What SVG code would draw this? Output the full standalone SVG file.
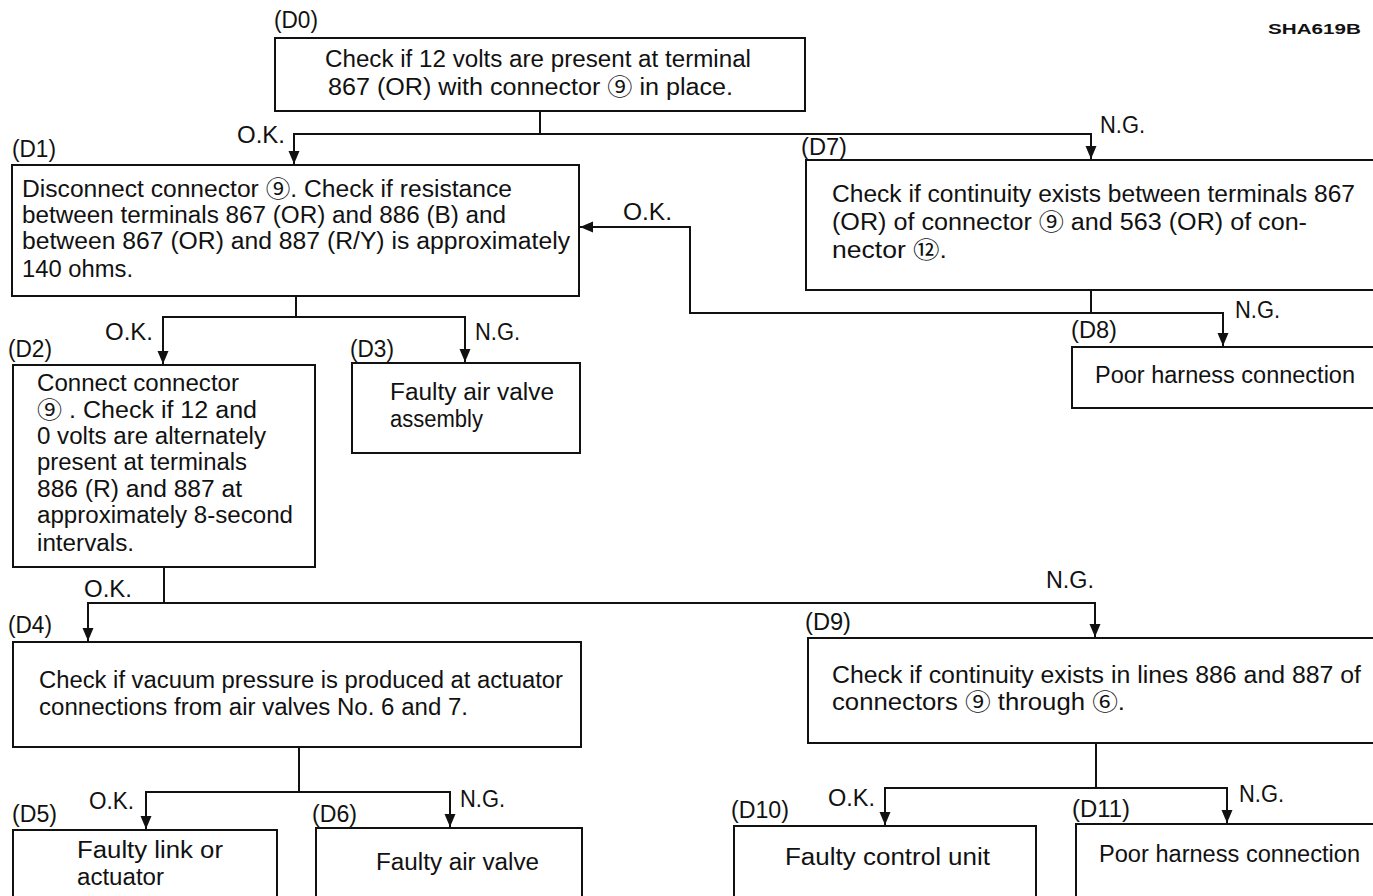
<svg xmlns="http://www.w3.org/2000/svg" width="1373" height="896" viewBox="0 0 1373 896">
<defs>
<style>
text{font-family:"Liberation Sans","Noto Sans CJK JP",sans-serif;font-size:23px;fill:#111;}
.box{fill:#fff;stroke:#111;stroke-width:2;}
.ln{fill:none;stroke:#111;stroke-width:2;}
.code{font-size:14px;font-weight:bold;}
</style>
<marker id="ah" markerUnits="userSpaceOnUse" markerWidth="14" markerHeight="14" viewBox="0 0 14 14" refX="13" refY="7" orient="auto">
<path d="M0 1.5 L13 7 L0 12.5 Z" fill="#111"/>
</marker>
</defs>
<rect width="1373" height="896" fill="#fff"/>
<text class="code" x="1268" y="34" textLength="93" lengthAdjust="spacingAndGlyphs">SHA619B</text>

<g id="connectors">
<path class="ln" d="M540 111 V134"/>
<path class="ln" d="M540 134 H294 V164" marker-end="url(#ah)"/>
<path class="ln" d="M540 134 H1091 V159" marker-end="url(#ah)"/>
<path class="ln" d="M1091 290 V313"/>
<path class="ln" d="M1091 313 H690 V227 H580" marker-end="url(#ah)"/>
<path class="ln" d="M1091 313 H1223 V346" marker-end="url(#ah)"/>
<path class="ln" d="M296 296 V317"/>
<path class="ln" d="M296 317 H163 V364" marker-end="url(#ah)"/>
<path class="ln" d="M296 317 H465 V362" marker-end="url(#ah)"/>
<path class="ln" d="M164 567 V603"/>
<path class="ln" d="M164 603 H88 V641" marker-end="url(#ah)"/>
<path class="ln" d="M164 603 H1095 V637" marker-end="url(#ah)"/>
<path class="ln" d="M299 747 V792"/>
<path class="ln" d="M299 792 H146 V829" marker-end="url(#ah)"/>
<path class="ln" d="M299 792 H450 V827" marker-end="url(#ah)"/>
<path class="ln" d="M1096 743 V788"/>
<path class="ln" d="M1096 788 H885 V825" marker-end="url(#ah)"/>
<path class="ln" d="M1096 788 H1227 V823" marker-end="url(#ah)"/>
<text x="237" y="143" textLength="48" lengthAdjust="spacingAndGlyphs">O.K.</text>
<text x="1100" y="133" textLength="45" lengthAdjust="spacingAndGlyphs">N.G.</text>
<text x="623" y="220" textLength="49" lengthAdjust="spacingAndGlyphs">O.K.</text>
<text x="1235" y="318" textLength="45" lengthAdjust="spacingAndGlyphs">N.G.</text>
<text x="105" y="340" textLength="48" lengthAdjust="spacingAndGlyphs">O.K.</text>
<text x="475" y="340" textLength="45" lengthAdjust="spacingAndGlyphs">N.G.</text>
<text x="84" y="597" textLength="48" lengthAdjust="spacingAndGlyphs">O.K.</text>
<text x="1046" y="588" textLength="48" lengthAdjust="spacingAndGlyphs">N.G.</text>
<text x="89" y="809" textLength="45" lengthAdjust="spacingAndGlyphs">O.K.</text>
<text x="460" y="807" textLength="45" lengthAdjust="spacingAndGlyphs">N.G.</text>
<text x="828" y="806" textLength="47" lengthAdjust="spacingAndGlyphs">O.K.</text>
<text x="1239" y="802" textLength="45" lengthAdjust="spacingAndGlyphs">N.G.</text>
</g>

<g id="D0">
<text x="274" y="28" textLength="44" lengthAdjust="spacingAndGlyphs">(D0)</text>
<rect class="box" x="275" y="38" width="530" height="73"/>
<text x="325" y="67" textLength="426" lengthAdjust="spacingAndGlyphs">Check if 12 volts are present at terminal</text>
<text x="328" y="95" textLength="405" lengthAdjust="spacingAndGlyphs">867 (OR) with connector ⑨ in place.</text>
</g>

<g id="D1">
<text x="12" y="157" textLength="44" lengthAdjust="spacingAndGlyphs">(D1)</text>
<rect class="box" x="12" y="165" width="567" height="131"/>
<text x="22" y="197" textLength="490" lengthAdjust="spacingAndGlyphs">Disconnect connector ⑨.  Check if resistance</text>
<text x="22" y="223" textLength="484" lengthAdjust="spacingAndGlyphs">between terminals 867 (OR) and 886 (B) and</text>
<text x="22" y="249" textLength="548" lengthAdjust="spacingAndGlyphs">between 867 (OR) and 887 (R/Y) is approximately</text>
<text x="22" y="277" textLength="111" lengthAdjust="spacingAndGlyphs">140 ohms.</text>
</g>

<g id="D2">
<text x="8" y="357" textLength="44" lengthAdjust="spacingAndGlyphs">(D2)</text>
<rect class="box" x="13" y="365" width="302" height="202"/>
<text x="37" y="391" textLength="202" lengthAdjust="spacingAndGlyphs">Connect connector</text>
<text x="37" y="418" textLength="220" lengthAdjust="spacingAndGlyphs">⑨ .  Check if 12 and</text>
<text x="37" y="444" textLength="229" lengthAdjust="spacingAndGlyphs">0 volts are alternately</text>
<text x="37" y="470" textLength="210" lengthAdjust="spacingAndGlyphs">present at terminals</text>
<text x="37" y="497" textLength="205" lengthAdjust="spacingAndGlyphs">886 (R) and 887 at</text>
<text x="37" y="523" textLength="256" lengthAdjust="spacingAndGlyphs">approximately 8-second</text>
<text x="37" y="551" textLength="97" lengthAdjust="spacingAndGlyphs">intervals.</text>
</g>

<g id="D3">
<text x="350" y="357" textLength="44" lengthAdjust="spacingAndGlyphs">(D3)</text>
<rect class="box" x="352" y="363" width="228" height="90"/>
<text x="390" y="400" textLength="164" lengthAdjust="spacingAndGlyphs">Faulty air valve</text>
<text x="390" y="427" textLength="93" lengthAdjust="spacingAndGlyphs">assembly</text>
</g>

<g id="D4">
<text x="8" y="633" textLength="44" lengthAdjust="spacingAndGlyphs">(D4)</text>
<rect class="box" x="13" y="642" width="568" height="105"/>
<text x="39" y="688" textLength="524" lengthAdjust="spacingAndGlyphs">Check if vacuum pressure is produced at actuator</text>
<text x="39" y="715" textLength="429" lengthAdjust="spacingAndGlyphs">connections from air valves No. 6 and 7.</text>
</g>

<g id="D5">
<text x="12" y="822" textLength="45" lengthAdjust="spacingAndGlyphs">(D5)</text>
<rect class="box" x="13" y="830" width="264" height="80"/>
<text x="77" y="858" textLength="146" lengthAdjust="spacingAndGlyphs">Faulty link or</text>
<text x="77" y="885" textLength="87" lengthAdjust="spacingAndGlyphs">actuator</text>
</g>

<g id="D6">
<text x="312" y="822" textLength="45" lengthAdjust="spacingAndGlyphs">(D6)</text>
<rect class="box" x="316" y="828" width="266" height="80"/>
<text x="376" y="870" textLength="163" lengthAdjust="spacingAndGlyphs">Faulty air valve</text>
</g>

<g id="D7">
<text x="801" y="155" textLength="46" lengthAdjust="spacingAndGlyphs">(D7)</text>
<rect class="box" x="806" y="160" width="580" height="130"/>
<text x="832" y="202" textLength="523" lengthAdjust="spacingAndGlyphs">Check if continuity exists between terminals 867</text>
<text x="832" y="230" textLength="475" lengthAdjust="spacingAndGlyphs">(OR) of connector ⑨ and 563 (OR) of con-</text>
<text x="832" y="258" textLength="115" lengthAdjust="spacingAndGlyphs">nector ⑫.</text>
</g>

<g id="D8">
<text x="1071" y="338" textLength="46" lengthAdjust="spacingAndGlyphs">(D8)</text>
<rect class="box" x="1072" y="347" width="320" height="61"/>
<text x="1095" y="383" textLength="260" lengthAdjust="spacingAndGlyphs">Poor harness connection</text>
</g>

<g id="D9">
<text x="805" y="630" textLength="46" lengthAdjust="spacingAndGlyphs">(D9)</text>
<rect class="box" x="808" y="638" width="580" height="105"/>
<text x="832" y="683" textLength="529" lengthAdjust="spacingAndGlyphs">Check if continuity exists in lines 886 and 887 of</text>
<text x="832" y="710" textLength="293" lengthAdjust="spacingAndGlyphs">connectors ⑨ through ⑥.</text>
</g>

<g id="D10">
<text x="731" y="818" textLength="58" lengthAdjust="spacingAndGlyphs">(D10)</text>
<rect class="box" x="734" y="826" width="302" height="80"/>
<text x="785" y="865" textLength="205" lengthAdjust="spacingAndGlyphs">Faulty control unit</text>
</g>

<g id="D11">
<text x="1072" y="817" textLength="58" lengthAdjust="spacingAndGlyphs">(D11)</text>
<rect class="box" x="1076" y="824" width="310" height="80"/>
<text x="1099" y="862" textLength="261" lengthAdjust="spacingAndGlyphs">Poor harness connection</text>
</g>
</svg>
